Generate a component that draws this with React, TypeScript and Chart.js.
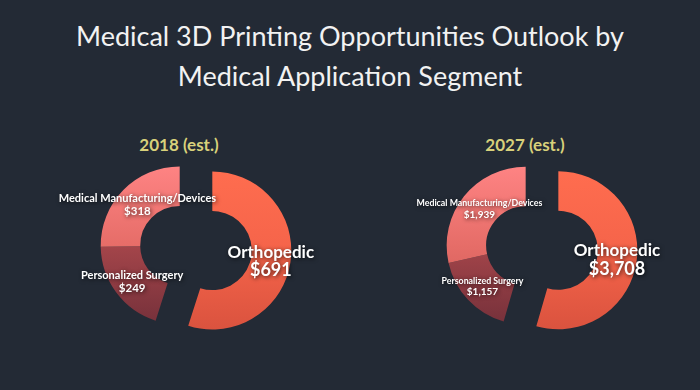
import React, { useEffect, useRef } from "react";
import { Chart, registerables } from "chart.js";

Chart.register(...registerables);

// ---- data ----
const segments = ["Orthopedic", "Personalized Surgery", "Medical Manufacturing/Devices"];
const values2018 = [691, 249, 318];
const values2027 = [3708, 1157, 1939];
const valueLabels2018 = ["$691", "$249", "$318"];
const valueLabels2027 = ["$3,708", "$1,157", "$1,939"];
const titleLines = ["Medical 3D Printing Opportunities Outlook by", "Medical Application Segment"];
const yearLabels = ["2018 (est.)", "2027 (est.)"];
const explodeGroups = [[0], [1, 2]];

// ---- styles ----
const BG = "#232a35";
const FONT = "Lato, 'Open Sans', sans-serif";
// gradient stops, in the same order as segments
const segmentStops: string[][] = [
  ["#ff6d4f", "#f5644a", "#d9523e"],
  ["#c4575b", "#a4454a", "#74303a"],
  ["#ff8484", "#e66d68", "#c85551"],
];

type LabelStyle = { nameSize: number[]; valueSize: number[]; nameDy: number[]; valueDy: number[] };

const labelStyle2018: LabelStyle = {
  nameSize: [17, 11, 11],
  valueSize: [18, 11.5, 11.5],
  nameDy: [-7, -5, -5],
  valueDy: [11, 7, 7],
};
const labelStyle2027: LabelStyle = {
  nameSize: [17, 8.8, 8.8],
  valueSize: [18, 10, 10],
  nameDy: [-8, -5, -5],
  valueDy: [11, 6, 6],
};

function groupShift(meta: any, i: number, groups: number[][], dist: number) {
  const g = groups.find((gr) => gr.includes(i)) || [i];
  const first = meta.data[g[0]] as any;
  const last = meta.data[g[g.length - 1]] as any;
  const mid = (first.startAngle + last.endAngle) / 2;
  return [Math.cos(mid) * dist, Math.sin(mid) * dist];
}

const explodePlugin = {
  id: "explodeGroups",
  beforeDatasetDraw(chart: any, args: any, opts: any) {
    const meta = args.meta;
    const ctx = chart.ctx;
    meta.data.forEach((arc: any, i: number) => {
      const [dx, dy] = groupShift(meta, i, opts.groups, opts.distance);
      ctx.save();
      ctx.translate(dx, dy);
      arc.draw(ctx, chart.chartArea);
      ctx.restore();
    });
    return false;
  },
  afterDatasetsDraw(chart: any, _args: any, opts: any) {
    const meta = chart.getDatasetMeta(0);
    const ctx = chart.ctx;
    const st: LabelStyle = opts.style;
    meta.data.forEach((arc: any, i: number) => {
      const [dx, dy] = groupShift(meta, i, opts.groups, opts.distance);
      const p = arc.tooltipPosition();
      const x = p.x + dx;
      const y = p.y + dy;
      ctx.save();
      ctx.fillStyle = "#ffffff";
      ctx.textAlign = "center";
      ctx.textBaseline = "middle";
      ctx.shadowColor = "rgba(0,0,0,0.75)";
      ctx.shadowBlur = 4;
      ctx.shadowOffsetX = 1;
      ctx.shadowOffsetY = 1;
      ctx.font = `bold ${st.nameSize[i]}px ${FONT}`;
      ctx.fillText(chart.data.labels[i], x, y + st.nameDy[i]);
      ctx.font = `bold ${st.valueSize[i]}px ${FONT}`;
      ctx.fillText(opts.valueLabels[i], x, y + st.valueDy[i]);
      ctx.restore();
    });
  },
};

function Donut({ values, valueLabels, style, left }: { values: number[]; valueLabels: string[]; style: LabelStyle; left: number }) {
  const ref = useRef<HTMLCanvasElement>(null);
  useEffect(() => {
    if (!ref.current) return;
    const chart = new Chart(ref.current, {
      type: "doughnut",
      data: {
        labels: segments,
        datasets: [
          {
            data: values,
            radius: 79,
            cutout: "50%",
            borderWidth: 0,
            backgroundColor: (c: any) => {
              const ch = c.chart;
              const area = ch.chartArea;
              const stops = segmentStops[c.dataIndex] || segmentStops[0];
              if (!area) return stops[0];
              const cy = (area.top + area.bottom) / 2;
              const g = ch.ctx.createLinearGradient(0, cy - 82, 0, cy + 82);
              g.addColorStop(0, stops[0]);
              g.addColorStop(0.5, stops[1]);
              g.addColorStop(1, stops[2]);
              return g;
            },
          } as any,
        ],
      },
      options: {
        responsive: false,
        animation: false,
        layout: { padding: 0 },
        plugins: {
          legend: { display: false },
          tooltip: { enabled: false },
          explodeGroups: { groups: explodeGroups, distance: 16.5, style, valueLabels },
        } as any,
      },
      plugins: [explodePlugin as any],
    });
    return () => chart.destroy();
  }, []);
  return (
    <canvas
      ref={ref}
      width={300}
      height={220}
      style={{ position: "absolute", left, top: 138, width: 300, height: 220 }}
    />
  );
}

export default function App() {
  return (
    <div
      style={{
        position: "fixed",
        left: 0,
        top: 0,
        width: 700,
        height: 390,
        background: BG,
        overflow: "hidden",
        fontFamily: FONT,
      }}
    >
      <div
        style={{
          position: "absolute",
          left: 0,
          top: 16,
          width: 700,
          textAlign: "center",
          color: "#f2f2f2",
          fontSize: 27,
          lineHeight: "40px",
        }}
      >
        {titleLines.map((t) => (
          <div key={t}>{t}</div>
        ))}
      </div>
      {yearLabels.map((t, i) => (
        <div
          key={t}
          style={{
            position: "absolute",
            left: (i === 0 ? 179 : 525) - 80,
            width: 160,
            top: 133,
            textAlign: "center",
            color: "#d8d17b",
            fontWeight: "bold",
            fontSize: 17,
            lineHeight: "24px",
          }}
        >
          {t}
        </div>
      ))}
      <Donut values={values2018} valueLabels={valueLabels2018} style={labelStyle2018} left={46} />
      <Donut values={values2027} valueLabels={valueLabels2027} style={labelStyle2027} left={392} />
    </div>
  );
}
